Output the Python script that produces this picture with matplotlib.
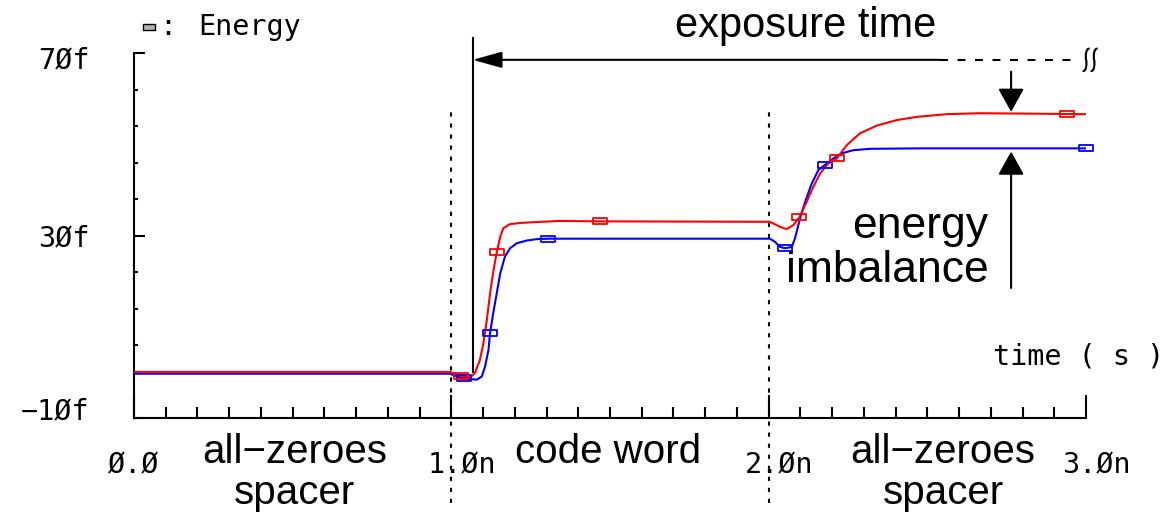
import matplotlib
matplotlib.use('Agg')
import matplotlib.pyplot as plt
from matplotlib.path import Path
from matplotlib.patches import PathPatch
from matplotlib.transforms import Affine2D, ScaledTranslation

# Energy traces, time in ns and energy in fJ
red_t = [0.0, 0.996, 1.032, 1.059, 1.074, 1.090, 1.101, 1.112, 1.122, 1.133,
         1.143, 1.154, 1.164, 1.185, 1.227, 1.343, 1.469, 2.004, 2.036, 2.057,
         2.078, 2.097, 2.120, 2.141, 2.162, 2.188, 2.215, 2.246, 2.288, 2.341,
         2.404, 2.467, 2.561, 2.666, 2.997]
red_e = [0.1, 0.1, -0.9, -1.1, -0.2, 2.7, 6.4, 11.5, 17.3, 22.4,
         26.3, 29.7, 31.6, 32.5, 32.8, 33.2, 33.1, 33.0, 31.9, 31.4,
         32.3, 34.0, 37.4, 40.7, 43.6, 45.8, 46.9, 49.8, 52.4, 54.1,
         55.3, 56.0, 56.6, 56.8, 56.6]

blue_t = [0.0, 0.996, 1.017, 1.041, 1.080, 1.096, 1.106, 1.117, 1.122, 1.132,
          1.143, 1.154, 1.169, 1.185, 1.206, 1.238, 1.269, 1.306, 2.004, 2.020,
          2.036, 2.052, 2.073, 2.083, 2.099, 2.115, 2.136, 2.157, 2.178, 2.204,
          2.230, 2.267, 2.320, 2.477, 3.0]
blue_e = [-0.3, -0.3, -0.9, -1.3, -1.6, -0.9, 1.2, 4.9, 8.6, 13.0,
          17.3, 21.7, 25.4, 27.2, 28.3, 28.9, 29.2, 29.3, 29.3, 28.6,
          27.5, 27.2, 27.5, 29.4, 33.8, 37.4, 41.4, 44.4, 45.5, 46.9,
          48.0, 48.7, 49.0, 49.1, 49.1]

# marker positions along each trace
red_mk_t = [1.032, 1.143, 1.469, 2.097, 2.215, 2.940]
red_mk_e = [-0.9, 26.3, 33.1, 34.0, 46.9, 56.7]
blue_mk_t = [1.041, 1.122, 1.306, 2.052, 2.178, 3.0]
blue_mk_e = [-1.3, 8.6, 29.3, 27.2, 45.5, 49.1]

x_major = [0, 1, 2, 3]
x_labels = ['Ø.Ø', '1.Øn', '2.Øn', '3.Øn']
x_minor = [i / 10 for i in range(1, 30) if i % 10]
y_major = [-10, 30, 70]
y_labels = ['−1Øf', '3Øf', '7Øf']
y_minor = [0, 6, 14, 22, 38, 46, 54, 62]

phases = ['all−zeroes\nspacer', 'code word', 'all−zeroes\nspacer']

W, H = 1166, 516
TICK_FONT = dict(family='DejaVu Sans Mono', size=20.5)
BIG_FONT = 'Liberation Sans'

fig = plt.figure(figsize=(W / 100, H / 100), dpi=100)
ax = fig.add_axes([134 / W, 1 - 418 / H, 952 / W, 365 / H])
ax.set_xlim(0, 3)
ax.set_ylim(-10, 70)

for side in ('top', 'right'):
    ax.spines[side].set_visible(False)
for side in ('left', 'bottom'):
    ax.spines[side].set_linewidth(1.5)

# wide open rectangle marker, like the simulator's
rect = Path([(-1, -0.5), (1, -0.5), (1, 0.5), (-1, 0.5), (-1, -0.5)],
            [Path.MOVETO, Path.LINETO, Path.LINETO, Path.LINETO, Path.CLOSEPOLY])

ax.plot(blue_t, blue_e, color='#0000ff', lw=1.5, zorder=3)
ax.plot(red_t, red_e, color='#ff0000', lw=1.5, zorder=4)
ax.plot(blue_mk_t, blue_mk_e, ls='none', marker=rect, ms=10, mfc='none',
        mec='#0000ff', mew=1.3, clip_on=False, zorder=5)
ax.plot(red_mk_t, red_mk_e, ls='none', marker=rect, ms=10, mfc='none',
        mec='#ff0000', mew=1.3, clip_on=False, zorder=5)

# ticks
ax.set_xticks(x_major, labels=x_labels)
ax.set_xticks(x_minor, minor=True)
ax.set_yticks(y_major, labels=y_labels)
ax.set_yticks(y_minor, minor=True)
ax.tick_params(axis='x', which='major', direction='in', length=16.6, width=1.5, pad=24)
ax.tick_params(axis='x', which='minor', direction='in', length=8, width=1.5)
ax.tick_params(axis='y', which='major', direction='in', length=8, width=1.5, pad=32)
ax.tick_params(axis='y', which='minor', direction='in', length=3.2, width=1.5)
for lab in ax.get_xticklabels() + ax.get_yticklabels():
    lab.set_fontfamily(TICK_FONT['family'])
    lab.set_fontsize(TICK_FONT['size'])
# decimal point sits on the tick for the "n" labels
for lab in ax.get_xticklabels():
    if lab.get_text().endswith('n'):
        lab.set_transform(lab.get_transform() + ScaledTranslation(0.10, 0, fig.dpi_scale_trans))
y_shift = {'−1Øf': 0.10, '7Øf': -0.04}
for lab in ax.get_yticklabels():
    dy = y_shift.get(lab.get_text(), 0)
    lab.set_transform(lab.get_transform() + ScaledTranslation(0, dy, fig.dpi_scale_trans))

# phase boundaries
for x in (1, 2):
    ax.axvline(x, ymin=-0.234, ymax=0.85, color='k', lw=1.5,
               ls=(0, (2, 3.3)), clip_on=False, zorder=2)

# exposure time marker
t_exp = 1.067
ax.plot([t_exp, t_exp], [0.0, 73.3], color='k', lw=1.5, clip_on=False, zorder=2)
ax.annotate('', xy=(t_exp, 68.5), xytext=(2.54, 68.5),
            arrowprops=dict(arrowstyle='-|>,head_length=18,head_width=5',
                            mutation_scale=1, lw=1.5, color='k',
                            shrinkA=0, shrinkB=0))
ax.plot([2.54, 2.975], [68.5, 68.5], color='k', lw=1.5, ls=(0, (3.8, 4.6)),
        clip_on=False)

# "continues" break mark: two tall s-shaped strokes (drawn in pixels)
squiggle = Path([(3.5, 11), (0, 12.5), (-1, 4), (0, 0), (1, -4), (0, -12.5), (-3.5, -11)],
                [Path.MOVETO, Path.CURVE4, Path.CURVE4, Path.CURVE4,
                 Path.CURVE4, Path.CURVE4, Path.CURVE4])
for dx_px in (-4, 4):
    tr = (Affine2D().translate(dx_px, 0).scale(0.01) + fig.dpi_scale_trans
          + ScaledTranslation(3.013, 68.5, ax.transData))
    fig.add_artist(PathPatch(squiggle, transform=tr, fill=False, lw=1.5,
                             edgecolor='k'))

ax.text(2.115, 73.5, 'exposure time', ha='center', va='baseline',
        fontsize=30, family=BIG_FONT)

# energy imbalance arrows
t_imb = 2.764
ax.annotate('', xy=(t_imb, 57.1), xytext=(t_imb, 65.9),
            arrowprops=dict(arrowstyle='-|>,head_length=14.4,head_width=8',
                            mutation_scale=1, lw=1.5, color='k',
                            shrinkA=0, shrinkB=0))
ax.annotate('', xy=(t_imb, 48.4), xytext=(t_imb, 18.5),
            arrowprops=dict(arrowstyle='-|>,head_length=14.4,head_width=8',
                            mutation_scale=1, lw=1.5, color='k',
                            shrinkA=0, shrinkB=0))
ax.text(2.692, 29.45, 'energy', ha='right', va='baseline', fontsize=32, family=BIG_FONT)
ax.text(2.692, 19.9, 'imbalance', ha='right', va='baseline', fontsize=32, family=BIG_FONT)

# phase names under the axis
for xc, name in zip([0.507, 1.494, 2.550], phases):
    lines = name.split('\n')
    ax.text(xc, -19.9, lines[0], ha='center', va='baseline', fontsize=29,
            family=BIG_FONT)
    if len(lines) > 1:
        ax.text(xc, -28.8, lines[1], ha='center', va='baseline', fontsize=29,
                family=BIG_FONT)

# axis caption and legend
fig.text(993 / W, 1 - 356 / H, 'time ( s )', ha='left', va='center', **TICK_FONT)
ax.plot([149 / W], [1 - 27 / H], marker=rect, ms=9, mfc='#b4b4b4', mec='k',
        mew=1, transform=fig.transFigure, clip_on=False)
fig.text(168 / W, 1 - 35 / H, ':', ha='center', va='baseline', **TICK_FONT)
fig.text(198 / W, 1 - 35 / H, 'Energy', ha='left', va='baseline', **TICK_FONT)

fig.savefig('out.png', dpi=100)
